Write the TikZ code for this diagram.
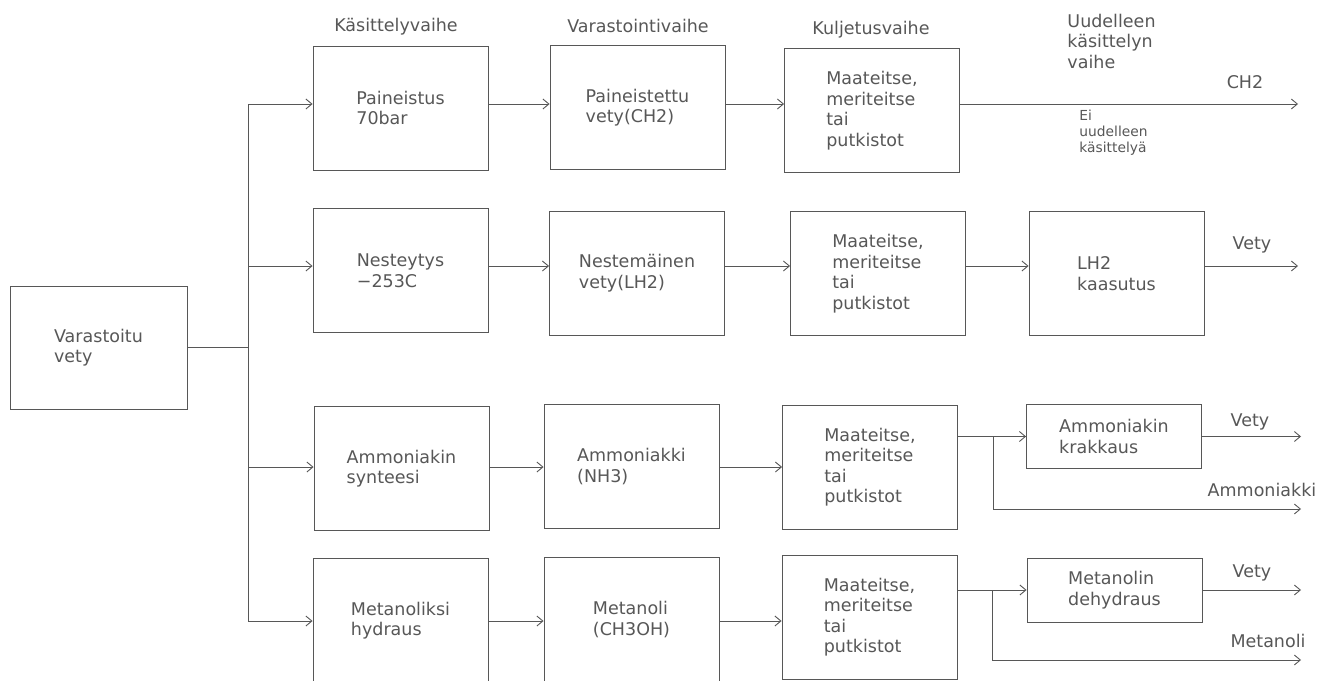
\documentclass[tikz,border=0pt]{standalone}
\usepackage{fontspec}
\setmainfont{DejaVu Sans}
\usetikzlibrary{arrows.meta}
\definecolor{cadline}{HTML}{575757}

\begin{document}
\begin{tikzpicture}[x=1pt, y=-1pt, color=cadline, line width=0.9pt,
  stage/.style={draw, minimum width=175pt, minimum height=124pt, align=left, inner sep=0pt},
  lowstage/.style={stage, minimum height=64pt},
  phase/.style={inner sep=0pt},
  >={Straight Barb[length=6pt,width=10pt]},
  font=\fontsize{17.5}{20.5}\selectfont]

\useasboundingbox (0,0) rectangle (1319,680);
\clip (0,0) rectangle (1319,680);

\node[stage, minimum width=177pt, minimum height=123pt] (src) at (98.5,347.5) {Varastoitu\\vety};

\node[stage] (p1) at (400.5,108) {Paineistus\\70bar};
\node[stage] (p2) at (637.5,107.5) {Paineistettu\\vety(CH2)};
\node[stage] (p3) at (872,110.5) {Maateitse,\\meriteitse\\tai\\putkistot};

\node[stage] (n1) at (400.5,270.5) {Nesteytys\\−253C};
\node[stage] (n2) at (637,273) {Nestemäinen\\vety(LH2)};
\node[stage] (n3) at (878,273.5) {Maateitse,\\meriteitse\\tai\\putkistot};
\node[stage] (n4) at (1116.5,273.5) {LH2\\kaasutus};

\node[stage] (a1) at (401.5,468.5) {Ammoniakin\\synteesi};
\node[stage] (a2) at (631.5,466.5) {Ammoniakki\\(NH3)};
\node[stage] (a3) at (870,467) {Maateitse,\\meriteitse\\tai\\putkistot};
\node[lowstage] (a4) at (1114,436.5) {Ammoniakin\\krakkaus};

\node[stage] (m1) at (400.5,620.5) {Metanoliksi\\hydraus};
\node[stage] (m2) at (631.5,619.5) {Metanoli\\(CH3OH)};
\node[stage] (m3) at (869.5,617) {Maateitse,\\meriteitse\\tai\\putkistot};
\node[lowstage] (m4) at (1114.5,590) {Metanolin\\dehydraus};

\coordinate (r1) at (248,104);
\coordinate (r2) at (248,266);
\coordinate (r3) at (248,467);
\coordinate (r4) at (248,621);
\coordinate (o1) at (1298,104);
\coordinate (o2) at (1298,266);
\coordinate (ja) at (993,509);
\coordinate (oa) at (1301,509);
\coordinate (jm) at (992,660);
\coordinate (om) at (1301,660);

\draw (src) -- (src -| r1);
\draw (r1) -- (r4);
\foreach \r/\b in {r1/p1,r2/n1,r3/a1,r4/m1}
  \draw[->] (\r) -- (\b.west |- \r);
\foreach \a/\b/\r in {p1/p2/r1,p2/p3/r1,n1/n2/r2,n2/n3/r2,n3/n4/r2,a1/a2/r3,a2/a3/r3,m1/m2/r4,m2/m3/r4}
  \draw[->] (\a.east |- \r) -- (\b.west |- \r);

\draw[->] (p3.east |- r1) -- (o1);
\draw[->] (n4.east |- r2) -- (o2);

\draw[->] (a3.east |- a4) -- (a4);
\draw[->] (ja |- a4) -- (ja) -- (oa);
\draw[->] (a4) -- (a4 -| oa);

\draw[->] (m3.east |- m4) -- (m4);
\draw[->] (jm |- m4) -- (jm) -- (om);
\draw[->] (m4) -- (m4 -| om);

\node[phase, anchor=base] (hk) at (396,31.7) {Käsittelyvaihe};
\node[phase, anchor=base] (hv) at (638,32.3) {Varastointivaihe};
\node[phase, anchor=base] (hj) at (871,34.3) {Kuljetusvaihe};
\node[phase, anchor=west, align=left] (hu) at (1067,41) {Uudelleen\\käsittelyn\\vaihe};

\node[phase, anchor=base] (lch) at (1245,88.3) {CH2};
\node[phase, anchor=west, align=left, font=\fontsize{13.8}{16}\selectfont] (lei) at (1079,133) {Ei\\uudelleen\\käsittelyä};
\node[phase, anchor=base] (lv2) at (1252,249) {Vety};
\node[phase, anchor=base] (lv3) at (1250,426.7) {Vety};
\node[phase, anchor=base] (lam) at (1262,496.7) {Ammoniakki};
\node[phase, anchor=base] (lv4) at (1252,577.3) {Vety};
\node[phase, anchor=base] (lme) at (1268,647.3) {Metanoli};
\end{tikzpicture}
\end{document}
